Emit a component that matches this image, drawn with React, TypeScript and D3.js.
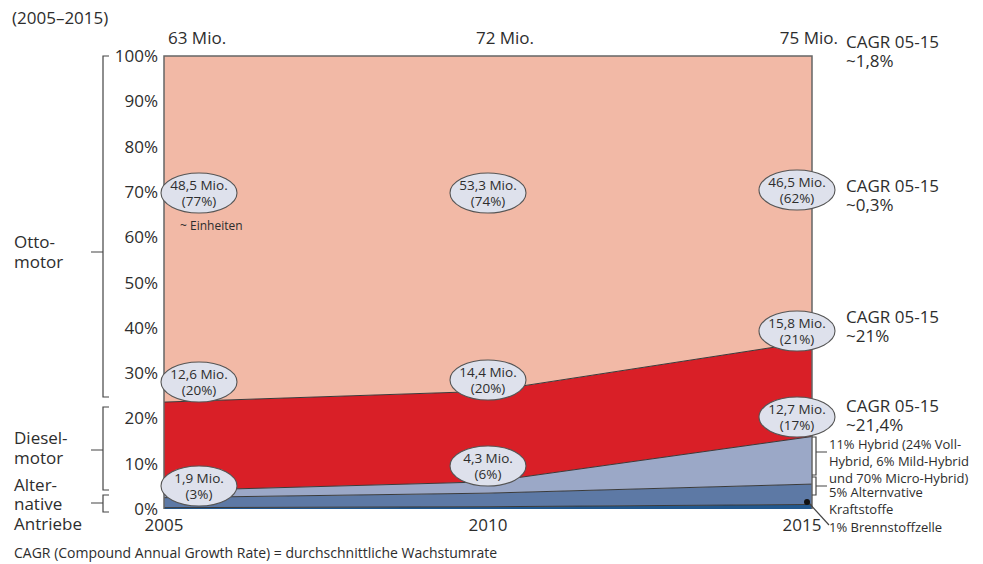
import React from "react";
import * as d3 from "d3";

const years = [2005, 2010, 2015];
const seriesKeys = ["brennstoff", "alternative", "hybrid", "diesel", "otto"];
const brennstoff = [0.3, 0.5, 1.0];
const alternative = [2.2, 3.0, 4.5];
const hybrid = [1.5, 2.5, 10.5];
const diesel = [19.6, 20.0, 21.0];
const otto = [76.4, 74.0, 63.0];
const seriesColors = ["#22588e", "#5d79a5", "#9ba8c7", "#d91f27", "#f2b9a6"];
const yTicks = [0, 10, 20, 30, 40, 50, 60, 70, 80, 90, 100];
const totals = ["63 Mio.", "72 Mio.", "75 Mio."];
const ottoLabels = [["48,5 Mio.", "(77%)"], ["53,3 Mio.", "(74%)"], ["46,5 Mio.", "(62%)"]];
const dieselLabels = [["12,6 Mio.", "(20%)"], ["14,4 Mio.", "(20%)"], ["15,8 Mio.", "(21%)"]];
const altLabels = [["1,9 Mio.", "(3%)"], ["4,3 Mio.", "(6%)"], ["12,7 Mio.", "(17%)"]];
const cagrValues = ["~1,8%", "~0,3%", "~21%", "~21,4%"];
const ellipseY = [[193, 382, 486], [193, 380, 466], [190, 331, 417]];
const ellipseX = [199, 488, 797];
const cagrY = [48, 192, 323, 412];

const FONT = "'Open Sans', 'Noto Sans', sans-serif";

export default function App() {
  const W = 983, H = 564;
  const x = d3.scaleLinear().domain([2005, 2015]).range([164, 812]);
  const y = d3.scaleLinear().domain([0, 100]).range([509, 56]);
  const table = years.map((yr, i) => ({
    year: yr,
    brennstoff: brennstoff[i],
    alternative: alternative[i],
    hybrid: hybrid[i],
    diesel: diesel[i],
    otto: otto[i],
  }));
  const stacked = d3.stack<any>().keys(seriesKeys)(table);
  const area = d3
    .area<any>()
    .x((d) => x(d.data.year))
    .y0((d) => y(d[0]))
    .y1((d) => y(d[1]));
  const line = d3
    .line<any>()
    .x((d) => x(d.data.year))
    .y((d) => y(d[1]));

  const txt = "#2d2d2d";
  const ell = (cx: number, cy: number, lines: string[], key: string) => (
    <g key={key}>
      <ellipse cx={cx} cy={cy} rx={38} ry={20} fill="#dee1ec" stroke="#555" strokeWidth={1.1} />
      <text x={cx} y={cy - 3} textAnchor="middle" fontSize={13.5} fill={txt}>{lines[0]}</text>
      <text x={cx} y={cy + 13} textAnchor="middle" fontSize={13.5} fill={txt}>{lines[1]}</text>
    </g>
  );

  return (
    <svg width={W} height={H} style={{ position: "absolute", left: 0, top: 0 }} fontFamily={FONT}>
      <rect width={W} height={H} fill="#fff" />
      <text x={12} y={24} fontSize={17} fill={txt}>(2005–2015)</text>

      {stacked.map((s, i) => (
        <path key={s.key} d={area(s) || ""} fill={seriesColors[i]} />
      ))}
      {stacked.slice(0, 4).map((s) => (
        <path key={"l" + s.key} d={line(s) || ""} fill="none" stroke="#3a3a3a" strokeWidth={1} />
      ))}
      <path d={`M${x(2005)},${y(0)}V${y(100)}H${x(2015)}V${y(0)}`} fill="none" stroke="#666" strokeWidth={1.5} />

      {yTicks.map((t) => (
        <text key={t} x={158} y={y(t) + 6} textAnchor="end" fontSize={17} fill={txt}>{t}%</text>
      ))}
      {years.map((yr, i) => (
        <text key={yr} x={i === 2 ? 802 : x(yr)} y={531} textAnchor="middle" fontSize={17} fill={txt}>{yr}</text>
      ))}
      <text x={168} y={44} fontSize={17} fill={txt}>{totals[0]}</text>
      <text x={505} y={44} textAnchor="middle" fontSize={17} fill={txt}>{totals[1]}</text>
      <text x={838} y={44} textAnchor="end" fontSize={17} fill={txt}>{totals[2]}</text>

      {cagrValues.map((v, i) => (
        <g key={v}>
          <text x={846} y={cagrY[i]} fontSize={17} fill={txt}>CAGR 05-15</text>
          <text x={846} y={cagrY[i] + 19} fontSize={17} fill={txt}>{v}</text>
        </g>
      ))}

      {ellipseX.map((cx, i) => ell(cx, ellipseY[i][0], ottoLabels[i], "o" + i))}
      {ellipseX.map((cx, i) => ell(cx, ellipseY[i][1], dieselLabels[i], "d" + i))}
      {ellipseX.map((cx, i) => ell(cx, ellipseY[i][2], altLabels[i], "a" + i))}
      <text x={180} y={230} fontSize={12} fill={txt}>~ Einheiten</text>

      <g fill="none" stroke="#444" strokeWidth={1.2}>
        <path d="M109,56H103V397H109M103,252H91" />
        <path d="M109,407H103V490H109M103,450H91" />
        <path d="M109,495H103V512H109M103,503H91" />
      </g>
      <g fontSize={17} fill={txt}>
        <text x={14} y={248}>Otto-</text>
        <text x={14} y={268}>motor</text>
        <text x={14} y={444}>Diesel-</text>
        <text x={14} y={464}>motor</text>
        <text x={14} y={491}>Alter-</text>
        <text x={14} y={510}>native</text>
        <text x={14} y={530}>Antriebe</text>
      </g>

      <g fill="none" stroke="#444" strokeWidth={1.2}>
        <path d="M812,437H816V475H812M816,452H827" />
        <path d="M812,477H816V495H812M816,486H827" />
        <path d="M808,502L829,525" />
      </g>
      <circle cx={807} cy={502} r={3} fill="#111" />
      <g fontSize={13} fill={txt}>
        <text x={829} y={449}>11% Hybrid (24% Voll-</text>
        <text x={829} y={466}>Hybrid, 6% Mild-Hybrid</text>
        <text x={829} y={483}>und 70% Micro-Hybrid)</text>
        <text x={829} y={497}>5% Alternvative</text>
        <text x={829} y={514}>Kraftstoffe</text>
        <text x={829} y={532}>1% Brennstoffzelle</text>
      </g>

      <text x={14} y={558} fontSize={14} fill={txt}>CAGR (Compound Annual Growth Rate) = durchschnittliche Wachstumrate</text>
    </svg>
  );
}
